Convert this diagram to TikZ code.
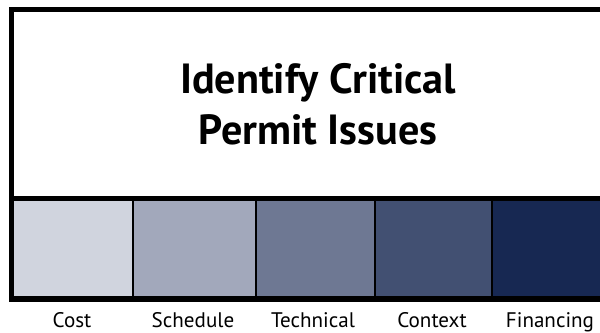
\documentclass[tikz,border=0pt]{standalone}
\usepackage{fontspec}
\setmainfont{PT Sans}
\definecolor{costfill}{HTML}{D0D4DE}
\definecolor{schedfill}{HTML}{A2A8BB}
\definecolor{techfill}{HTML}{6E7893}
\definecolor{contextfill}{HTML}{425072}
\definecolor{finfill}{HTML}{172852}
\tikzset{
    headbox/.style={rectangle, minimum width=12.26cm, minimum height=3.76cm, align=center,
        font=\bfseries\fontsize{24}{29}\selectfont},
    cell/.style={draw, line width=1.2pt, rectangle, minimum height=2cm, inner sep=0pt},
    tag/.style={font=\fontsize{12}{14}\selectfont, anchor=base}
}

\begin{document}
\begin{tikzpicture}[x=0.02cm, y=-0.02cm]
    \useasboundingbox (0,0) rectangle (600,333);
    \clip (0,0) rectangle (600,333);
    \node[headbox] (head) at (318,104) {Identify Critical\\Permit Issues};
    \node[cell, fill=costfill, minimum width=2.42cm] (cost) at (72.5,248) {};
    \node[cell, fill=schedfill, minimum width=2.46cm] (schedule) at (194.5,248) {};
    \node[cell, fill=techfill, minimum width=2.38cm] (technical) at (315.5,248) {};
    \node[cell, fill=contextfill, minimum width=2.34cm] (context) at (433.5,248) {};
    \node[cell, fill=finfill, minimum width=2.56cm] (financing) at (556,248) {};
    \draw[line width=3pt] (head.north west) rectangle (financing.south east);
    \draw[line width=3pt] (head.south west) -- (head.south east);
    \node[tag] at (72,328) {Cost};
    \node[tag] at (193,328) {Schedule};
    \node[tag] at (313,328) {Technical};
    \node[tag] at (432,328) {Context};
    \node[tag] at (550,328) {Financing};
\end{tikzpicture}
\end{document}
